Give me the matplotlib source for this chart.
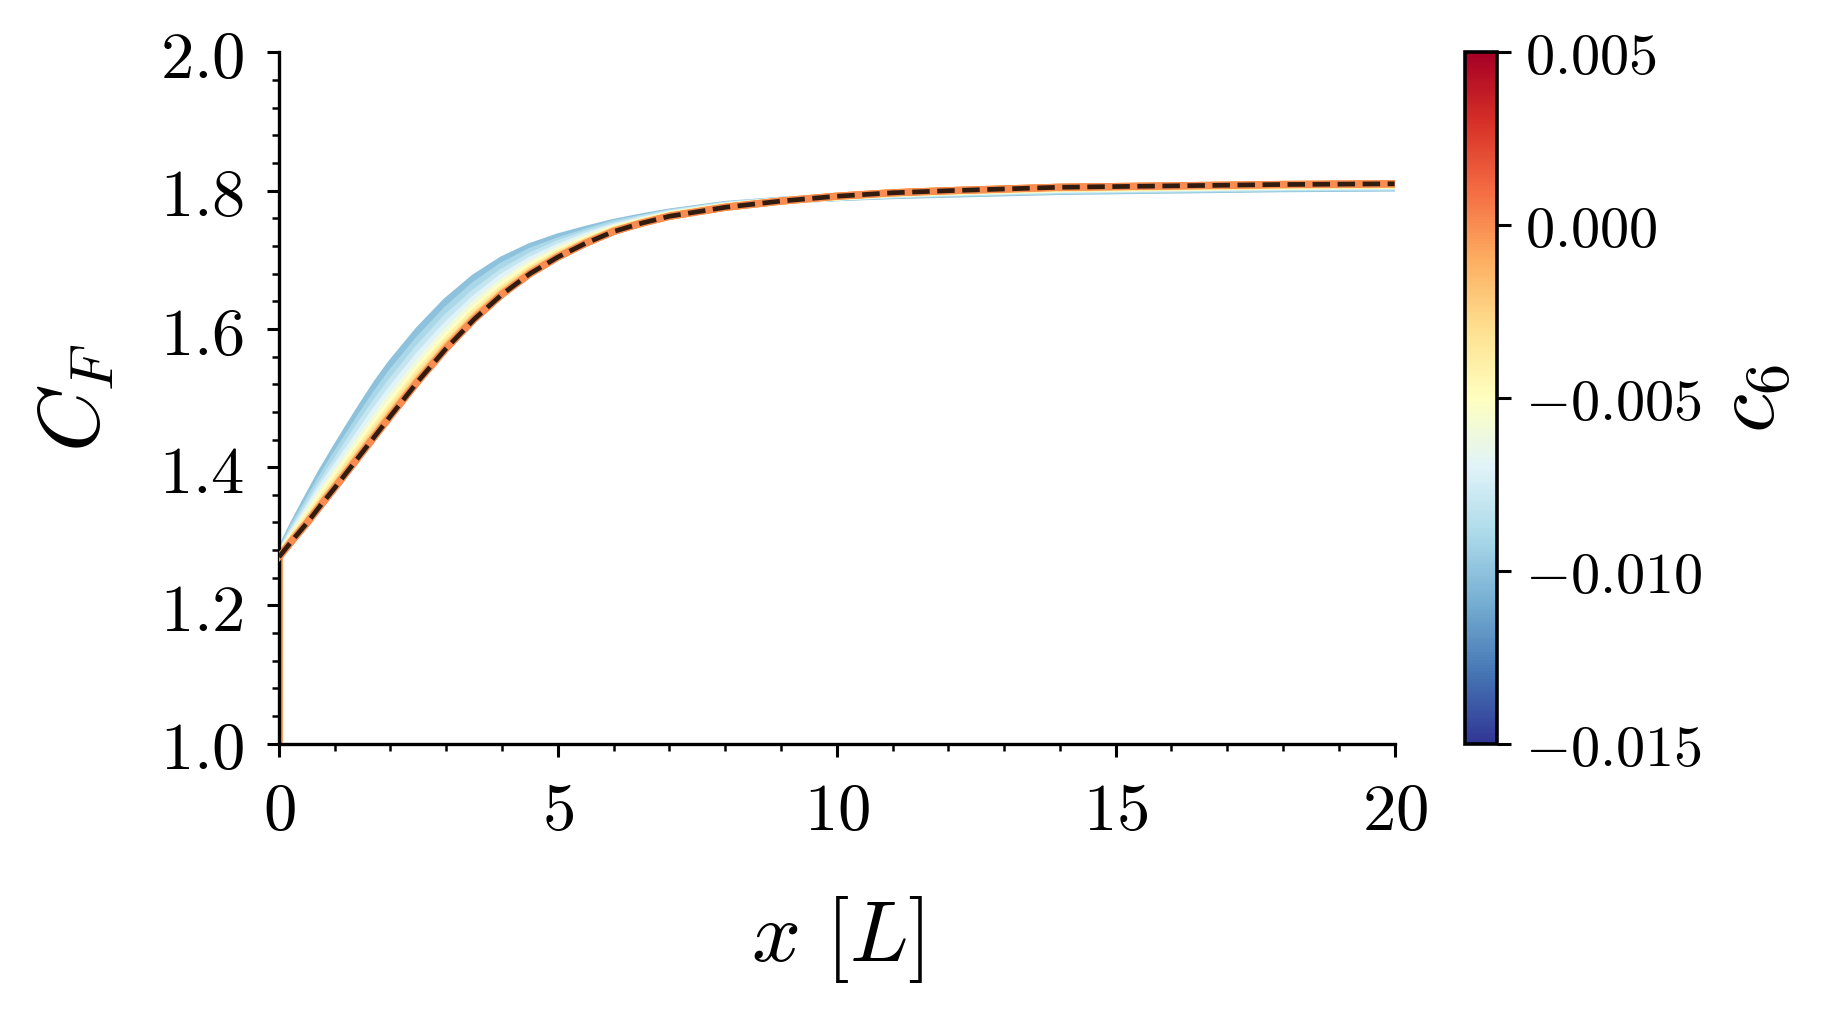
import matplotlib
matplotlib.use('Agg')
import matplotlib.pyplot as plt
import matplotlib.colors as mcolors
import matplotlib.cm as cm
from matplotlib.ticker import AutoMinorLocator, FuncFormatter

plt.rcParams['mathtext.fontset'] = 'cm'
plt.rcParams['font.family'] = 'serif'

# x positions along the wake [L]; first point is the jump at x = 0
x_vals = [0, 0, 0.25, 0.5, 0.75, 1, 1.25, 1.5, 1.75, 2, 2.5, 3, 3.5, 4, 4.5,
          5, 5.5, 6, 6.5, 7, 8, 9, 10, 11, 12, 14, 16, 18, 20]

# c6 values of the sweep
c6_vals = [-0.010, -0.009, -0.008, -0.007, -0.006, -0.005,
           -0.004, -0.003, -0.002, -0.001, 0.000]

# C_F curves, one per c6 value (same order as c6_vals)
cf_m010 = [1.0, 1.275, 1.316, 1.354, 1.391, 1.425, 1.458, 1.490, 1.521, 1.549, 1.598, 1.640, 1.674, 1.700,
           1.719, 1.733, 1.744, 1.754, 1.762, 1.769, 1.780, 1.786, 1.790, 1.793, 1.795, 1.799, 1.801, 1.803, 1.804]
cf_m009 = [1.0, 1.274, 1.312, 1.347, 1.382, 1.415, 1.446, 1.477, 1.507, 1.535, 1.584, 1.627, 1.663, 1.691,
           1.712, 1.727, 1.740, 1.752, 1.760, 1.768, 1.779, 1.786, 1.790, 1.794, 1.796, 1.800, 1.802, 1.804, 1.805]
cf_m008 = [1.0, 1.273, 1.308, 1.341, 1.374, 1.405, 1.436, 1.466, 1.495, 1.522, 1.572, 1.616, 1.652, 1.682,
           1.705, 1.723, 1.737, 1.749, 1.759, 1.767, 1.779, 1.786, 1.791, 1.794, 1.797, 1.801, 1.803, 1.805, 1.806]
cf_m007 = [1.0, 1.272, 1.305, 1.336, 1.368, 1.397, 1.426, 1.455, 1.484, 1.511, 1.561, 1.605, 1.643, 1.675,
           1.699, 1.718, 1.734, 1.747, 1.757, 1.766, 1.778, 1.785, 1.791, 1.795, 1.798, 1.802, 1.804, 1.806, 1.807]
cf_m006 = [1.0, 1.272, 1.303, 1.332, 1.362, 1.390, 1.418, 1.446, 1.474, 1.501, 1.551, 1.596, 1.636, 1.668,
           1.694, 1.714, 1.731, 1.746, 1.756, 1.765, 1.777, 1.785, 1.791, 1.796, 1.798, 1.803, 1.805, 1.807, 1.808]
cf_m005 = [1.0, 1.271, 1.300, 1.328, 1.357, 1.384, 1.412, 1.439, 1.466, 1.493, 1.543, 1.589, 1.629, 1.663,
           1.690, 1.711, 1.729, 1.744, 1.755, 1.765, 1.777, 1.785, 1.791, 1.796, 1.799, 1.803, 1.805, 1.807, 1.808]
cf_m004 = [1.0, 1.271, 1.298, 1.325, 1.352, 1.379, 1.406, 1.433, 1.460, 1.486, 1.537, 1.583, 1.624, 1.658,
           1.686, 1.709, 1.727, 1.743, 1.754, 1.764, 1.777, 1.785, 1.792, 1.796, 1.799, 1.804, 1.806, 1.808, 1.809]
cf_m003 = [1.0, 1.270, 1.297, 1.322, 1.349, 1.375, 1.402, 1.428, 1.455, 1.481, 1.532, 1.578, 1.619, 1.655,
           1.684, 1.707, 1.726, 1.742, 1.754, 1.764, 1.776, 1.785, 1.792, 1.797, 1.800, 1.804, 1.806, 1.808, 1.809]
cf_m002 = [1.0, 1.270, 1.296, 1.320, 1.347, 1.372, 1.398, 1.425, 1.451, 1.477, 1.528, 1.575, 1.617, 1.652,
           1.682, 1.705, 1.725, 1.742, 1.753, 1.763, 1.776, 1.785, 1.792, 1.797, 1.800, 1.805, 1.807, 1.809, 1.810]
cf_m001 = [1.0, 1.270, 1.295, 1.319, 1.345, 1.371, 1.397, 1.423, 1.449, 1.475, 1.526, 1.573, 1.615, 1.651,
           1.680, 1.704, 1.724, 1.741, 1.753, 1.763, 1.776, 1.785, 1.792, 1.797, 1.800, 1.805, 1.807, 1.809, 1.810]
cf_000 = [1.0, 1.270, 1.295, 1.319, 1.345, 1.370, 1.396, 1.422, 1.448, 1.474, 1.525, 1.572, 1.614, 1.650,
          1.680, 1.704, 1.724, 1.741, 1.753, 1.763, 1.776, 1.785, 1.792, 1.797, 1.800, 1.805, 1.807, 1.809, 1.810]

cf_curves = [cf_m010, cf_m009, cf_m008, cf_m007, cf_m006, cf_m005,
             cf_m004, cf_m003, cf_m002, cf_m001, cf_000]

# reference solution (dashed) starts at the value after the jump
ref_x = x_vals[1:]
ref_cf = cf_000[1:]

cmap = plt.get_cmap('RdYlBu_r')
norm = mcolors.Normalize(vmin=-0.015, vmax=0.005)

fig = plt.figure(figsize=(1823 / 200, 1009 / 200), dpi=200)
ax = fig.add_axes([0.153, 0.263, 0.612, 0.685])
cax = fig.add_axes([0.8036, 0.263, 0.0178, 0.685])

# Sweep curves
for c6, cf in zip(c6_vals, cf_curves):
    ax.plot(x_vals, cf, color=cmap(norm(c6)), lw=2.6, zorder=2)

# Highlight c6 = 0 and reference
ax.plot(ref_x, ref_cf, color=cmap(norm(0.0)), lw=2.4, zorder=3)
ax.plot(ref_x, ref_cf, color='black', ls='--', lw=1.7, alpha=0.8, zorder=4)

ax.set_xlim(0, 20)
ax.set_ylim(1.0, 2.0)
ax.set_xticks([0, 5, 10, 15, 20])
ax.set_yticks([1.0, 1.2, 1.4, 1.6, 1.8, 2.0])
ax.xaxis.set_minor_locator(AutoMinorLocator(5))
ax.yaxis.set_minor_locator(AutoMinorLocator(5))
ax.xaxis.set_major_formatter(FuncFormatter(lambda v, p: f'${v:.0f}$'))
ax.yaxis.set_major_formatter(FuncFormatter(lambda v, p: f'${v:.1f}$'))
ax.tick_params(which='major', length=4.5, width=1.1, labelsize=24, pad=8)
ax.tick_params(which='minor', length=2.5, width=0.9)
ax.spines[['top', 'right']].set_visible(False)
ax.spines[['left', 'bottom']].set_linewidth(1.2)
ax.set_xlabel(r'$x\ [L]$', fontsize=31, labelpad=18)
ax.set_ylabel(r'$C_F$', fontsize=31, labelpad=15)

# Colorbar
sm = cm.ScalarMappable(norm=norm, cmap=cmap)
cb = fig.colorbar(sm, cax=cax)
cb.set_ticks([-0.015, -0.010, -0.005, 0.000, 0.005])
cb.ax.yaxis.set_major_formatter(FuncFormatter(lambda v, p: f'${v:.3f}$'))
cb.ax.tick_params(length=5, width=1.1, labelsize=21, pad=5)
cb.outline.set_linewidth(1.3)
cb.set_label(r'$c_6$', fontsize=32, labelpad=1)

fig.savefig('out.png', dpi=200)
